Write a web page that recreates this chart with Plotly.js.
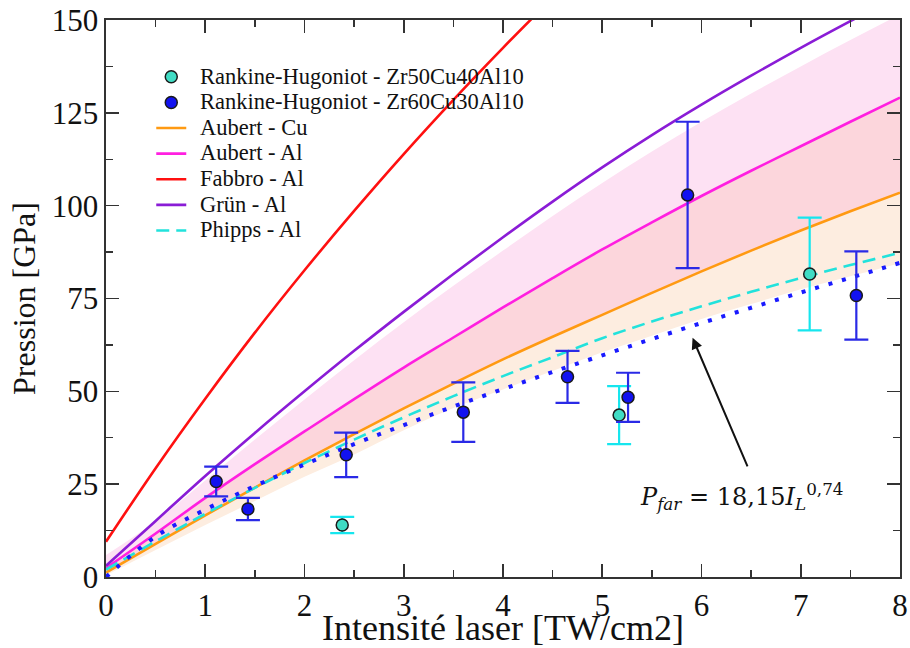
<!DOCTYPE html>
<html>
<head>
<meta charset="utf-8">
<script src="https://cdn.plot.ly/plotly-3.0.1.min.js"></script>
<style>html,body{margin:0;padding:0;background:#fff;}#chart{width:910px;height:648px;}</style>
</head>
<body>
<div id="chart"></div>
<script>
// ---- data ----
const xGrid = [0,0.5,1,1.5,2,2.5,3,3.5,4,4.5,5,5.5,6,6.5,7,7.5,8];
const aubertCu = [1.2,8.9,16.6,24.1,31.4,38.5,45.4,52.1,58.6,64.7,70.6,76.5,82.3,87.9,93.3,98.5,103.5];
const aubertAl = [2.4,11.7,21.3,30.4,39.2,47.9,56.4,64.5,72.6,80.5,88.2,95.5,102.6,109.4,116.0,122.6,129.1];
const grunAl   = [3.0,15.1,27.2,38.8,50.0,60.9,71.4,81.6,91.5,101.1,110.3,119.0,127.2,135.0,142.5,149.7,156.7];
const phippsAl = [2.0,9.6,17.0,24.0,30.7,37.0,43.0,48.7,54.1,59.2,64.3,68.8,72.9,76.8,80.5,84.0,87.3];
const fitFar   = [0,10.9,18.15,24.5,30.3,35.8,40.9,45.9,50.6,55.2,59.7,64.1,68.4,72.5,76.6,80.6,84.6];
const xFabbro  = [0,0.5,1,1.5,2,2.5,3,3.5,4,4.5];
const fabbroAl = [9.5,29.3,48.0,65.8,82.6,98.6,113.9,128.5,142.5,156.0];
// shaded uncertainty bands
const pinkUpper  = [5.9,15.0,26.0,37.0,47.8,58.4,68.6,78.4,87.9,97.2,106.1,114.6,122.6,130.2,137.5,144.6,151.5];
const peachLower = [0.5,7.3,14.0,20.5,27.0,33.0,39.5,45.5,50.5,55.5,60.5,65.0,69.5,73.5,77.5,81.0,84.5];
// Rankine-Hugoniot points
const xZr50 = [2.38,5.17,7.09];
const yZr50 = [14.0,43.6,81.6];
const eZr50 = [2.2,7.8,15.2];
const xZr60 = [1.11,1.43,2.42,3.60,4.65,5.26,5.86,7.56];
const yZr60 = [25.7,18.3,32.9,44.4,53.9,48.4,102.9,75.8];
const eZr60 = [4.0,3.0,6.0,8.0,7.0,6.6,19.7,11.9];
const legendNames = ['Rankine-Hugoniot - Zr50Cu40Al10','Rankine-Hugoniot - Zr60Cu30Al10',
                     'Aubert - Cu','Aubert - Al','Fabbro - Al','Grün - Al','Phipps - Al'];

const serif = '"Liberation Serif", "Times New Roman", serif';
const noHover = {hoverinfo:'skip', showlegend:false};
const lg = s => '\u00A0\u00A0<span style="font-size:22.5px">' + s + '</span>';

const traces = [
  Object.assign({x:xGrid, y:aubertAl, mode:'lines', line:{width:0, shape:'spline'}}, noHover),
  Object.assign({x:xGrid, y:pinkUpper, mode:'lines', fill:'tonexty', fillcolor:'#fde1f3', line:{width:0, shape:'spline'}}, noHover),
  Object.assign({x:xGrid, y:aubertCu, mode:'lines', line:{width:0, shape:'spline'}}, noHover),
  Object.assign({x:xGrid, y:aubertAl, mode:'lines', fill:'tonexty', fillcolor:'#fcd6dc', line:{width:0, shape:'spline'}}, noHover),
  Object.assign({x:xGrid, y:peachLower, mode:'lines', line:{width:0, shape:'spline'}}, noHover),
  Object.assign({x:xGrid, y:aubertCu, mode:'lines', fill:'tonexty', fillcolor:'#fdede0', line:{width:0, shape:'spline'}}, noHover),
  {x:xGrid, y:aubertCu, mode:'lines', name:lg(legendNames[2]), legendrank:3, line:{color:'#ff9a12', width:2.6, shape:'spline'}},
  {x:xGrid, y:aubertAl, mode:'lines', name:lg(legendNames[3]), legendrank:4, line:{color:'#ff1fe0', width:2.6, shape:'spline'}},
  {x:xFabbro, y:fabbroAl, mode:'lines', name:lg(legendNames[4]), legendrank:5, line:{color:'#ff1010', width:2.6, shape:'spline'}},
  {x:xGrid, y:grunAl, mode:'lines', name:lg(legendNames[5]), legendrank:6, line:{color:'#8a1cd6', width:2.6, shape:'spline'}},
  {x:xGrid, y:phippsAl, mode:'lines', name:lg(legendNames[6]), legendrank:7, line:{color:'#22e2dc', width:2.6, dash:'13px,7px', shape:'spline'}},
  Object.assign({x:xGrid, y:fitFar, mode:'lines', line:{color:'#1a1aff', width:4, dash:'4px,10px', shape:'spline'}}, noHover),
  {x:xZr50, y:yZr50, mode:'markers', name:lg(legendNames[0]), legendrank:1,
   marker:{size:12, color:'#40dcc4', line:{color:'#1a1a1a', width:1.5}},
   error_y:{type:'data', array:eZr50, visible:true, color:'#16e6ee', thickness:2.2, width:12}},
  {x:xZr60, y:yZr60, mode:'markers', name:lg(legendNames[1]), legendrank:2,
   marker:{size:12, color:'#1212f0', line:{color:'#1a1a1a', width:1.5}},
   error_y:{type:'data', array:eZr60, visible:true, color:'#2a2ae6', thickness:2.2, width:12}}
];

const axisCommon = {
  showgrid:false, zeroline:false, showline:true, linecolor:'#333', linewidth:1.6,
  mirror:'ticks', ticks:'inside', ticklen:13, tickwidth:1.6, tickcolor:'#333',
  tickfont:{family:serif, size:31, color:'#111'}
};

const layout = {
  width:910, height:648,
  margin:{l:106, r:10, t:20, b:71},
  paper_bgcolor:'#fff', plot_bgcolor:'#fff',
  showlegend:true,
  legend:{x:0.057, y:0.93, xanchor:'left', yanchor:'top', bgcolor:'rgba(0,0,0,0)', traceorder:'normal',
          font:{family:serif, size:17.4, color:'#111'}, tracegroupgap:0, itemwidth:30},
  xaxis:Object.assign({}, axisCommon, {range:[0,8], dtick:1, tick0:0,
    minor:{dtick:0.5, ticks:'inside', ticklen:7, tickcolor:'#333', tickwidth:1.4},
    title:{text:'Intensité laser [TW/cm2]', font:{family:serif, size:36, color:'#111'}, standoff:2}}),
  yaxis:Object.assign({}, axisCommon, {range:[0,150], dtick:25, tick0:0,
    minor:{dtick:12.5, ticks:'inside', ticklen:7, tickcolor:'#333', tickwidth:1.4},
    title:{text:'Pression [GPa]', font:{family:serif, size:32, color:'#111'}, standoff:6}}),
  annotations:[
    {x:5.91, y:64.4, xref:'x', yref:'y', ax:6.47, ay:29.4, axref:'x', ayref:'y',
     text:'', showarrow:true, arrowhead:2, arrowsize:1.1, arrowwidth:2, arrowcolor:'#111'},
    {x:6.41, y:21.8, xref:'x', yref:'y', showarrow:false,
     text:'<i>P</i><sub><i>far</i></sub> = 18,15<i>I</i><sub><i>L</i></sub><sup>0,74</sup>',
     font:{family:'DejaVu Serif, Liberation Serif, serif', size:24, color:'#111'}}
  ]
};

Plotly.newPlot('chart', traces, layout, {staticPlot:true, displayModeBar:false});
</script>
</body>
</html>
